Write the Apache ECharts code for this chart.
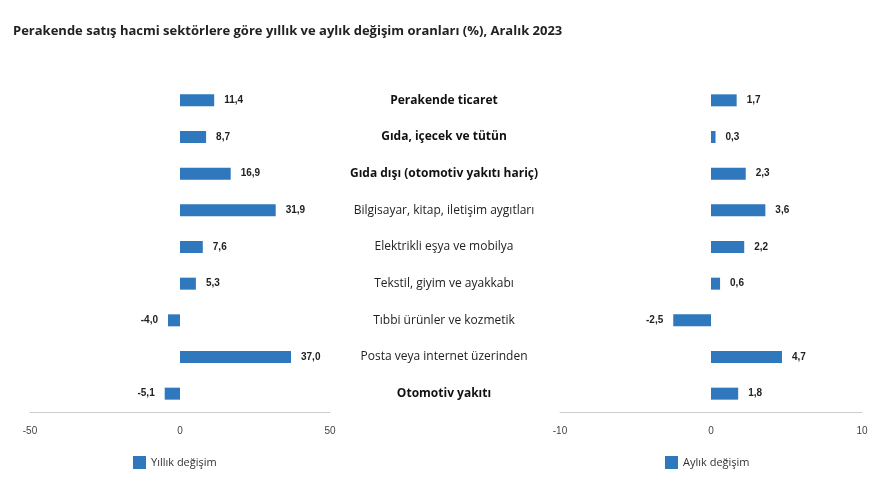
<!DOCTYPE html>
<html>
<head>
<meta charset="utf-8">
<script src="https://cdn.jsdelivr.net/npm/echarts@6/dist/echarts.min.js"></script>
<style>html,body{margin:0;padding:0;background:#fff}#main{width:880px;height:498px}</style>
</head>
<body>
<div id="main"></div>
<script>
var categories = ['Perakende ticaret','Gıda, içecek ve tütün','Gıda dışı (otomotiv yakıtı hariç)','Bilgisayar, kitap, iletişim aygıtları','Elektrikli eşya ve mobilya','Tekstil, giyim ve ayakkabı','Tıbbi ürünler ve kozmetik','Posta veya internet üzerinden','Otomotiv yakıtı'];
var boldCats = ['Perakende ticaret','Gıda, içecek ve tütün','Gıda dışı (otomotiv yakıtı hariç)','Otomotiv yakıtı'];
var yillik = [11.4, 8.7, 16.9, 31.9, 7.6, 5.3, -4.0, 37.0, -5.1];
var aylik = [1.7, 0.3, 2.3, 3.6, 2.2, 0.6, -2.5, 4.7, 1.8];
var blue = '#2f78bd';

function fmt(v){ return v.toFixed(1).replace('.', ','); }
function mkData(arr){
  return arr.map(function(v){
    return {value:v, label:{position: v < 0 ? 'left' : 'right'}};
  });
}
var chart = echarts.init(document.getElementById('main'));
var catAxis = function(grid, show){
  return {type:'category', gridIndex:grid, data:categories, inverse:true,
    axisLine:{show:false}, axisTick:{show:false}, axisLabel:{show:false}};
};
chart.setOption({
  animation:false,
  title:{text:'Perakende satış hacmi sektörlere göre yıllık ve aylık değişim oranları (%), Aralık 2023',
    left:8, top:20, textStyle:{fontSize:13, fontWeight:'bold', color:'#222', fontFamily:'Open Sans'}},
  legend:[
    {data:['Yıllık değişim'], left:128, top:451, itemWidth:13, itemHeight:13, icon:'rect',
      textStyle:{fontSize:11, color:'#333', fontFamily:'Open Sans'}},
    {data:['Aylık değişim'], left:660, top:451, itemWidth:13, itemHeight:13, icon:'rect',
      textStyle:{fontSize:11, color:'#333', fontFamily:'Open Sans'}}
  ],
  grid:[
    {left:30, width:300, top:82, height:330},
    {left:560, width:302, top:82, height:330},
    {left:444, width:1, top:82, height:330}
  ],
  xAxis:[
    {type:'value', gridIndex:0, min:-50, max:50, interval:50, splitLine:{show:false},
      axisLine:{show:true, lineStyle:{color:'#ccc'}}, axisTick:{show:false},
      axisLabel:{color:'#444', fontSize:10, margin:14}},
    {type:'value', gridIndex:1, min:-10, max:10, interval:10, splitLine:{show:false},
      axisLine:{show:true, lineStyle:{color:'#ccc'}}, axisTick:{show:false},
      axisLabel:{color:'#444', fontSize:10, margin:14}},
    {type:'value', gridIndex:2, show:false}
  ],
  yAxis:[
    catAxis(0), catAxis(1),
    {type:'category', gridIndex:2, data:categories, inverse:true, position:'left',
      axisLine:{show:false}, axisTick:{show:false},
      axisLabel:{align:'center', margin:0, fontSize:12, color:'#222', fontFamily:'Open Sans',
        formatter:function(v){ return boldCats.indexOf(v) >= 0 ? '{b|' + v + '}' : v; },
        rich:{b:{fontWeight:'bold', fontSize:12, color:'#111', fontFamily:'Open Sans'}}}}
  ],
  series:[
    {name:'Yıllık değişim', type:'bar', xAxisIndex:0, yAxisIndex:0, barWidth:12,
      itemStyle:{color:blue}, data:mkData(yillik),
      label:{show:true, distance:10, fontSize:10, fontWeight:'bold', color:'#222',
        formatter:function(p){return fmt(p.value);}}},
    {name:'Aylık değişim', type:'bar', xAxisIndex:1, yAxisIndex:1, barWidth:12,
      itemStyle:{color:blue}, data:mkData(aylik),
      label:{show:true, distance:10, fontSize:10, fontWeight:'bold', color:'#222',
        formatter:function(p){return fmt(p.value);}}}
  ]
});
</script>
</body>
</html>
